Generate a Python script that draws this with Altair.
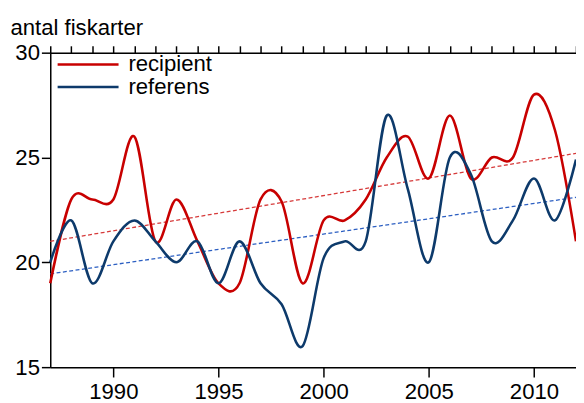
import altair as alt
import pandas as pd

years = list(range(1987, 2013))
recipient = [19, 23, 23, 23, 26, 21, 23, 21, 19, 19, 23, 22.9, 19, 22, 22, 23,
             25, 26, 24, 27, 24, 25, 25, 28, 26.3, 21]
referens = [20, 22, 19, 21, 22, 21, 20, 21, 19, 21, 19, 18, 16, 20.2, 21, 21,
            27, 23.5, 20, 25, 24.2, 21, 22, 24, 22, 24.9]
trend_years = [1987, 2012]
trend_recipient = [21.0, 25.2]
trend_referens = [19.45, 23.1]
series_names = ["recipient", "referens"]
line_colors = ["#c80000", "#0d3a6b"]
trend_colors = ["#d63a3a", "#2c5fc2"]
major_years = [1990, 1995, 2000, 2005, 2010]
y_ticks = [15, 20, 25, 30]

FONT = "Liberation Sans"
FS = 22.5

df = pd.DataFrame({
    "year": years * 2,
    "value": recipient + referens,
    "series": [series_names[0]] * len(years) + [series_names[1]] * len(years),
})
tr = pd.DataFrame({
    "year": trend_years * 2,
    "value": trend_recipient + trend_referens,
    "series": [series_names[0]] * 2 + [series_names[1]] * 2,
})

xscale = alt.Scale(domain=[1987, 2012], nice=False, zero=False)
yscale = alt.Scale(domain=[15, 30], nice=False, zero=False)

yaxis = alt.Axis(values=y_ticks, tickSize=9, labelPadding=2, labelFontSize=FS,
                 labelFont=FONT, labelColor="black", grid=False,
                 domainColor="black", tickColor="black", domainWidth=1.5, tickWidth=1.5,
                 title="antal fiskarter", titleAngle=0, titleAlign="left",
                 titleBaseline="alphabetic", titleX=-41, titleY=-18.5,
                 titleFontSize=FS, titleFontWeight="normal", titleFont=FONT,
                 titleColor="black")

minor_axis = alt.Axis(values=years, labels=False, tickSize=7, grid=False, title=None,
                      domainColor="black", tickColor="black", domainWidth=1.5, tickWidth=1.5)
major_axis = alt.Axis(values=major_years, format="d", tickSize=10, labelPadding=4,
                      labelFontSize=FS, labelFont=FONT, labelColor="black", grid=False,
                      title=None, domainColor="black", tickColor="black",
                      domainWidth=1.5, tickWidth=1.5)

lines = alt.Chart(df).mark_line(interpolate="cardinal", strokeWidth=2.6).encode(
    x=alt.X("year:Q", scale=xscale, axis=minor_axis),
    y=alt.Y("value:Q", scale=yscale, axis=yaxis),
    color=alt.Color("series:N", scale=alt.Scale(domain=series_names, range=line_colors), legend=None),
    detail="series:N",
)

trends = alt.Chart(tr).mark_line(strokeWidth=1.3, strokeDash=[4, 2.5]).encode(
    x=alt.X("year:Q", scale=xscale, axis=major_axis),
    y=alt.Y("value:Q", scale=yscale),
    stroke=alt.Stroke("series:N", scale=alt.Scale(domain=series_names, range=trend_colors), legend=None),
    detail="series:N",
)

legend_rows = [12, 35]
legend_layers = []
for i, name in enumerate(series_names):
    ldf = pd.DataFrame({"series": [name]})
    legend_layers.append(
        alt.Chart(ldf).mark_rule(strokeWidth=2.6, color=line_colors[i]).encode(
            x=alt.value(7.5), x2=alt.value(69.5), y=alt.value(legend_rows[i])
        )
    )
    legend_layers.append(
        alt.Chart(ldf).mark_text(align="left", baseline="middle", fontSize=FS,
                                 font=FONT, color="black").encode(
            x=alt.value(79.5), y=alt.value(legend_rows[i]), text="series:N"
        )
    )

chart = alt.layer(trends, lines, *legend_layers).resolve_axis(x="independent").resolve_scale(
    color="independent", stroke="independent"
).properties(
    width=535, height=320,
    autosize=alt.AutoSizeParams(type="none"),
    padding={"left": 43, "top": 42, "right": 0, "bottom": 33},
).configure_view(stroke="black", strokeWidth=1.5).configure(font=FONT)

chart.save("out.html", embed_options={"renderer": "svg", "actions": False})
